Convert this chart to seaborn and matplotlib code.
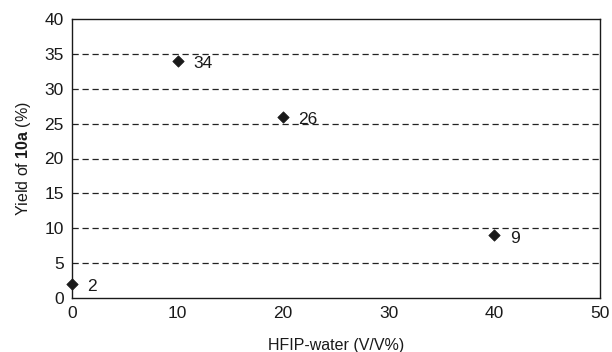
import matplotlib
matplotlib.use("Agg")
import matplotlib.pyplot as plt
import seaborn as sns
import pandas as pd

hfip = [0, 10, 20, 40]
yields = [2, 34, 26, 9]
labels = ["2", "34", "26", "9"]
xticks = [0, 10, 20, 30, 40, 50]
yticks = [0, 5, 10, 15, 20, 25, 30, 35, 40]

sns.set_style("white")
plt.rcParams['font.family'] = ['Liberation Sans', 'DejaVu Sans']
plt.rcParams['mathtext.fontset'] = 'custom'
plt.rcParams['mathtext.rm'] = 'Liberation Sans'
plt.rcParams['mathtext.bf'] = 'Liberation Sans:bold'

df = pd.DataFrame({"x": hfip, "y": yields})

fig = plt.figure(figsize=(6.12, 3.52), dpi=100)
ax = fig.add_axes([72/612, 1 - 298/352, (600-72)/612, (298-19)/352])

for v in yticks[1:-1]:
    ax.axhline(v, color="#222222", lw=0.9, ls=(0, (5, 3)), zorder=1)

sns.scatterplot(data=df, x="x", y="y", marker="D", s=34, color="#1a1a1a",
                edgecolor="#1a1a1a", ax=ax, zorder=3, clip_on=False)
for xv, yv, t in zip(hfip, yields, labels):
    ax.annotate(t, (xv, yv), xytext=(11, -2), textcoords="offset points",
                fontsize=12.5, color="#1a1a1a", va="center")

ax.set_xlim(0, 50)
ax.set_ylim(0, 40)
ax.set_xticks(xticks)
ax.set_yticks(yticks)
ax.tick_params(axis="x", direction="in", length=4, width=0.8, labelsize=12.5, pad=6, colors="#1a1a1a")
ax.tick_params(axis="y", length=0, labelsize=12.5, pad=6, colors="#1a1a1a")
for s in ax.spines.values():
    s.set_color("#1a1a1a")
    s.set_linewidth(1.0)
ax.set_xlabel("HFIP-water (V/V%)", fontsize=11.5, color="#1a1a1a", labelpad=12)
ax.set_ylabel(r"Yield of $\mathbf{10a}$ (%)", fontsize=11.5, color="#1a1a1a", labelpad=8)

fig.savefig("out.png", dpi=100)
